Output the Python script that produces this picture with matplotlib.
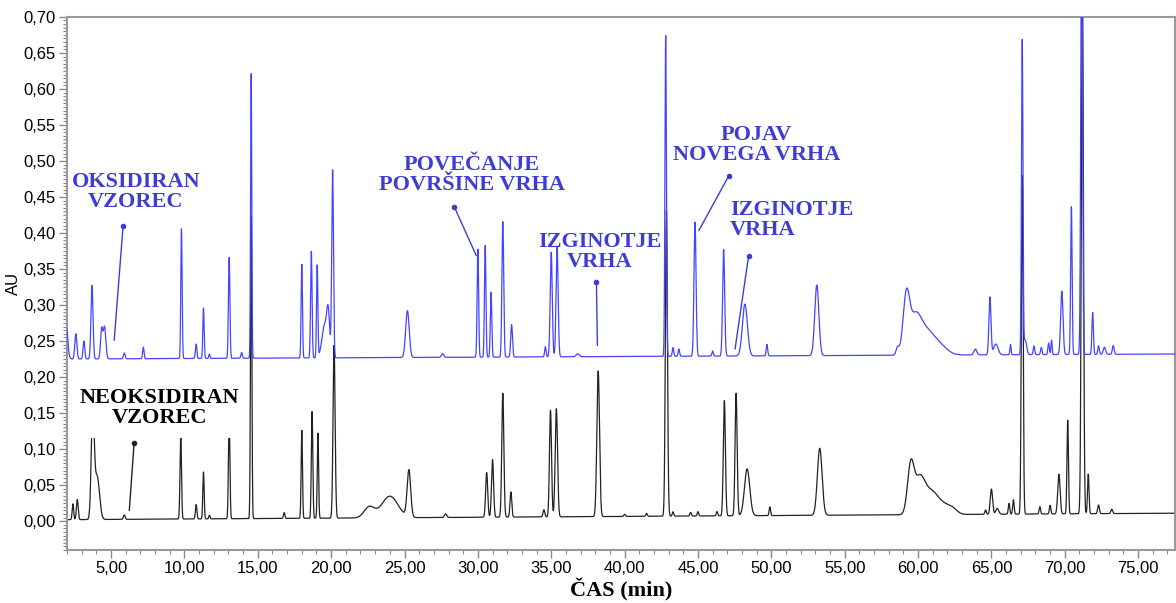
import numpy as np
import matplotlib
matplotlib.use('Agg')
import matplotlib.pyplot as plt
from matplotlib.ticker import MultipleLocator, FuncFormatter

# peak tables: retention time (min), height above baseline (AU), width (min)
ox_rt = [1.9, 2.6, 3.15, 3.7, 4.35, 4.55, 5.9, 7.2, 9.8, 10.8, 11.3, 11.7, 13.05, 13.9, 14.55,
         18.0, 18.65, 19.05, 19.55, 19.8, 20.1, 25.2, 27.6, 30.0, 30.5, 30.9, 31.7, 32.3, 34.6,
         35.0, 35.4, 36.8, 42.8, 43.3, 43.7, 44.8, 46.0, 46.75, 48.2, 49.7, 53.1, 58.6, 59.2,
         59.8, 60.6, 61.5, 63.9, 64.9, 65.3, 66.3, 67.1, 67.3, 67.9, 68.4, 68.9, 69.1, 69.8,
         70.45, 71.15, 71.9, 72.3, 72.7, 73.3]
ox_h = [0.06, 0.035, 0.025, 0.102, 0.04, 0.045, 0.008, 0.016, 0.18, 0.02, 0.07, 0.006, 0.14, 0.008, 0.395,
        0.13, 0.148, 0.128, 0.045, 0.055, 0.26, 0.065, 0.005, 0.15, 0.155, 0.09, 0.188, 0.045, 0.014,
        0.145, 0.153, 0.004, 0.445, 0.012, 0.01, 0.186, 0.007, 0.148, 0.072, 0.016, 0.098, 0.01, 0.075,
        0.05, 0.03, 0.012, 0.008, 0.08, 0.015, 0.014, 0.435, 0.02, 0.012, 0.01, 0.016, 0.02, 0.088,
        0.205, 0.6, 0.058, 0.012, 0.01, 0.012]
ox_w = [0.12, 0.07, 0.06, 0.07, 0.07, 0.09, 0.06, 0.05, 0.045, 0.05, 0.045, 0.04, 0.05, 0.05, 0.04,
        0.045, 0.05, 0.045, 0.18, 0.1, 0.06, 0.12, 0.08, 0.05, 0.05, 0.05, 0.06, 0.06, 0.05,
        0.07, 0.07, 0.1, 0.05, 0.05, 0.05, 0.07, 0.05, 0.07, 0.17, 0.05, 0.14, 0.1, 0.22,
        0.4, 0.5, 0.5, 0.1, 0.07, 0.15, 0.04, 0.05, 0.1, 0.05, 0.05, 0.05, 0.04, 0.08,
        0.05, 0.06, 0.05, 0.05, 0.08, 0.06]
ox_base = [0.225, 0.232]

neo_rt = [2.4, 2.7, 3.75, 4.05, 5.9, 9.75, 10.8, 11.3, 11.7, 13.05, 14.55, 16.8, 18.0, 18.7, 19.1,
          20.2, 22.6, 24.0, 25.3, 27.8, 30.6, 31.0, 31.7, 32.25, 34.5, 34.95, 35.35, 38.2, 40.0,
          41.5, 42.85, 43.3, 44.5, 45.0, 46.3, 46.8, 47.6, 48.35, 49.9, 53.3, 59.5, 60.1, 60.9,
          61.8, 62.4, 64.6, 65.0, 65.4, 66.2, 66.5, 67.1, 68.3, 69.0, 69.6, 70.2, 71.2, 71.6,
          72.3, 73.2]
neo_h = [0.022, 0.028, 0.15, 0.06, 0.006, 0.118, 0.02, 0.065, 0.005, 0.14, 0.42, 0.008, 0.122, 0.148, 0.118,
         0.24, 0.015, 0.03, 0.065, 0.005, 0.062, 0.08, 0.172, 0.035, 0.01, 0.148, 0.15, 0.202, 0.003,
         0.004, 0.425, 0.006, 0.005, 0.006, 0.006, 0.16, 0.17, 0.065, 0.012, 0.093, 0.065, 0.048, 0.03,
         0.012, 0.005, 0.006, 0.035, 0.008, 0.015, 0.02, 0.47, 0.01, 0.012, 0.055, 0.13, 0.75, 0.055,
         0.012, 0.006]
neo_w = [0.05, 0.06, 0.1, 0.16, 0.06, 0.05, 0.05, 0.045, 0.04, 0.05, 0.045, 0.05, 0.045, 0.05, 0.045,
         0.07, 0.35, 0.55, 0.12, 0.08, 0.07, 0.07, 0.07, 0.06, 0.06, 0.07, 0.08, 0.09, 0.05,
         0.05, 0.07, 0.05, 0.05, 0.05, 0.05, 0.07, 0.07, 0.18, 0.05, 0.16, 0.22, 0.35, 0.45,
         0.45, 0.3, 0.05, 0.08, 0.1, 0.05, 0.05, 0.06, 0.05, 0.05, 0.08, 0.05, 0.07, 0.05,
         0.06, 0.06]
neo_base = [0.002, 0.011]

x_ticks = [5, 10, 15, 20, 25, 30, 35, 40, 45, 50, 55, 60, 65, 70, 75]


def trace(t, rt, h, w, base):
    y = np.interp(t, [t[0], t[-1]], base)
    for r, a, s in zip(rt, h, w):
        y = y + a * np.exp(-0.5 * ((t - r) / s) ** 2)
    return y


t = np.arange(1.9, 77.6, 0.005)
y_ox = trace(t, ox_rt, ox_h, ox_w, ox_base)
y_neo = trace(t, neo_rt, neo_h, neo_w, neo_base)

fig, ax = plt.subplots(figsize=(11.76, 6.03), dpi=100)
fig.subplots_adjust(left=0.057, right=0.999, top=0.972, bottom=0.088)

ax.plot(t, y_neo, color='#222222', lw=0.9, zorder=2)
ax.plot(t, y_ox, color='#4444ff', lw=0.9, zorder=3)

ax.set_xlim(2, 77.5)
ax.set_ylim(-0.04, 0.70)
ax.set_xticks(x_ticks)
ax.xaxis.set_minor_locator(MultipleLocator(1))
ax.yaxis.set_major_locator(MultipleLocator(0.05))
ax.yaxis.set_minor_locator(MultipleLocator(0.005))
fmt = FuncFormatter(lambda v, p: f'{v:.2f}'.replace('.', ','))
ax.xaxis.set_major_formatter(fmt)
ax.yaxis.set_major_formatter(fmt)
for lab in ax.get_xticklabels() + ax.get_yticklabels():
    lab.set_fontfamily('Liberation Sans')
    lab.set_fontsize(12)
ax.tick_params(which='major', length=6, width=1, color='#888888', pad=2)
ax.tick_params(which='minor', length=3, width=0.8, color='#888888')
for sp in ax.spines.values():
    sp.set_color('#999999')
    sp.set_linewidth(1.5)

ax.set_ylabel('AU', fontfamily='Liberation Sans', fontsize=12, labelpad=2)
ax.set_xlabel('ČAS (min)', fontfamily='Liberation Serif', fontweight='bold', fontsize=16, labelpad=2)

blue = '#3d3dd6'
tkw = dict(fontfamily='Liberation Serif', fontweight='bold', fontsize=16, linespacing=1.0, zorder=5)
ax.text(6.7, 0.457, 'OKSIDIRAN\nVZOREC', color=blue, ha='center', va='center', **tkw)
ax.text(29.6, 0.48, 'POVEČANJE\nPOVRŠINE VRHA', color=blue, ha='center', va='center', **tkw)
ax.text(38.3, 0.374, 'IZGINOTJE\nVRHA', color=blue, ha='center', va='center', **tkw)
ax.text(49.0, 0.522, 'POJAV\nNOVEGA VRHA', color=blue, ha='center', va='center', **tkw)
ax.text(47.2, 0.418, 'IZGINOTJE\nVRHA', color=blue, ha='left', va='center', **tkw)
ax.text(8.3, 0.157, 'NEOKSIDIRAN\nVZOREC', color='black', ha='center', va='center',
        bbox=dict(facecolor='white', edgecolor='none', pad=7), **tkw)

# annotation pointers (from trace to label)
arrows = [((5.2, 0.247), (5.82, 0.41), blue),
          ((29.97, 0.365), (28.4, 0.436), blue),
          ((38.15, 0.24), (38.08, 0.332), blue),
          ((44.97, 0.40), (47.09, 0.479), blue),
          ((47.5, 0.235), (48.45, 0.368), blue),
          ((6.23, 0.011), (6.57, 0.108), '#222222')]
for (x0, y0), (x1, y1), c in arrows:
    ax.annotate('', xy=(x1, y1), xytext=(x0, y0),
                arrowprops=dict(arrowstyle='-', color=c, lw=1.0), zorder=6)
    ax.plot([x1], [y1], 'o', ms=3, color=c, zorder=6)

plt.savefig('out.png', dpi=100)
plt.close('all')
